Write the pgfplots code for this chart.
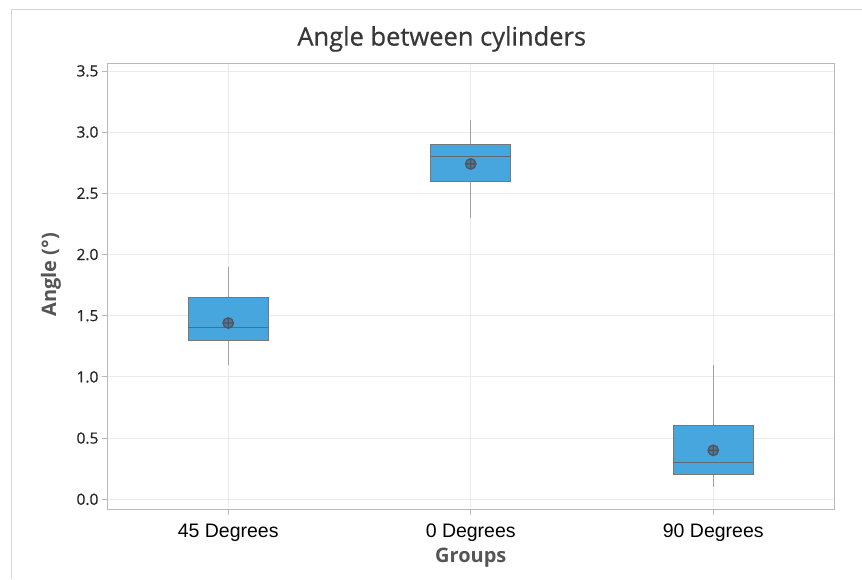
\documentclass[border=0pt]{standalone}
\usepackage{pgfplots}
\pgfplotsset{compat=1.18}
\usepgfplotslibrary{statistics}
\usepackage{fontspec}
\setmainfont{Open Sans}
\newfontfamily\arialfont{Liberation Sans}
\newfontfamily\semib[FakeBold=0.6]{Open Sans}
\definecolor{boxblue}{RGB}{72,166,222}
\definecolor{boxedge}{RGB}{120,120,120}
\definecolor{medgray}{RGB}{95,105,115}
\definecolor{gridgray}{RGB}{235,235,235}
\definecolor{axgray}{RGB}{185,185,185}
\definecolor{titlegray}{RGB}{55,55,55}
\definecolor{labgray}{RGB}{85,85,85}
\definecolor{meangray}{RGB}{80,85,95}
\begin{document}
\begin{tikzpicture}[x=1pt,y=1pt]
\path (0,0) rectangle (862,579);
\draw[color=gridgray!80!gray, line width=1pt] (12,0) -- (12,569) -- (862,569);
\begin{axis}[
  at={(107pt,69pt)}, anchor=south west,
  scale only axis, width=728pt, height=447pt,
  xmin=-0.5, xmax=2.5, ymin=-0.085, ymax=3.565,
  xtick={0,1,2}, xticklabels={45 Degrees,0 Degrees,90 Degrees},
  ytick={0,0.5,...,3.5},
  yticklabel style={/pgf/number format/.cd,fixed,fixed zerofill,precision=1},
  /pgf/number format/assume math mode=true,
  tick label style={font=\semib\fontsize{15.5}{18}\selectfont, color=black!85},
  xticklabel style={font=\arialfont\fontsize{19.5}{22}\selectfont, color=black, anchor=base, yshift=-23pt},
  grid=major, major grid style={color=gridgray, line width=0.8pt},
  axis line style={color=axgray, line width=0.8pt},
  tick style={color=axgray, line width=0.8pt},
  tick align=outside, major tick length=5pt,
  xtick pos=bottom, ytick pos=left,
  xlabel={Groups}, ylabel={Angle (°)},
  label style={font=\bfseries\fontsize{20}{24}\selectfont, color=labgray},
  xlabel style={at={(axis description cs:0.5,-0.108)}, anchor=center},
  ylabel style={at={(axis description cs:-0.077,0.526)}, anchor=center},
  boxplot/draw direction=y,
  boxplot/box extend=0.33,
  boxplot/whisker extend=0,
]
\addplot+[boxplot prepared={lower whisker=1.10, lower quartile=1.30, median=1.40, upper quartile=1.65, upper whisker=1.90, draw position=0},
  fill=boxblue, draw=boxedge, line width=0.8pt, solid, mark=none,
  boxplot/every median/.style={draw=medgray, line width=1pt},
  boxplot/every whisker/.style={draw=boxedge!70, line width=1.1pt}] coordinates {};
\addplot+[boxplot prepared={lower whisker=2.30, lower quartile=2.60, median=2.80, upper quartile=2.90, upper whisker=3.10, draw position=1},
  fill=boxblue, draw=boxedge, line width=0.8pt, solid, mark=none,
  boxplot/every median/.style={draw=medgray, line width=1pt},
  boxplot/every whisker/.style={draw=boxedge!70, line width=1.1pt}] coordinates {};
\addplot+[boxplot prepared={lower whisker=0.10, lower quartile=0.20, median=0.30, upper quartile=0.60, upper whisker=1.10, draw position=2},
  fill=boxblue, draw=boxedge, line width=0.8pt, solid, mark=none,
  boxplot/every median/.style={draw=medgray, line width=1pt},
  boxplot/every whisker/.style={draw=boxedge!70, line width=1.1pt}] coordinates {};
\addplot[only marks, mark=oplus*, mark size=5.2pt, draw=meangray, fill=meangray!55!boxblue, line width=1.4pt]
  coordinates {(0,1.44) (1,2.74) (2,0.40)};
\end{axis}
\node[font=\semib\fontsize{25.5}{29}\selectfont, color=titlegray] at (442,540) {Angle between cylinders};
\end{tikzpicture}
\end{document}
